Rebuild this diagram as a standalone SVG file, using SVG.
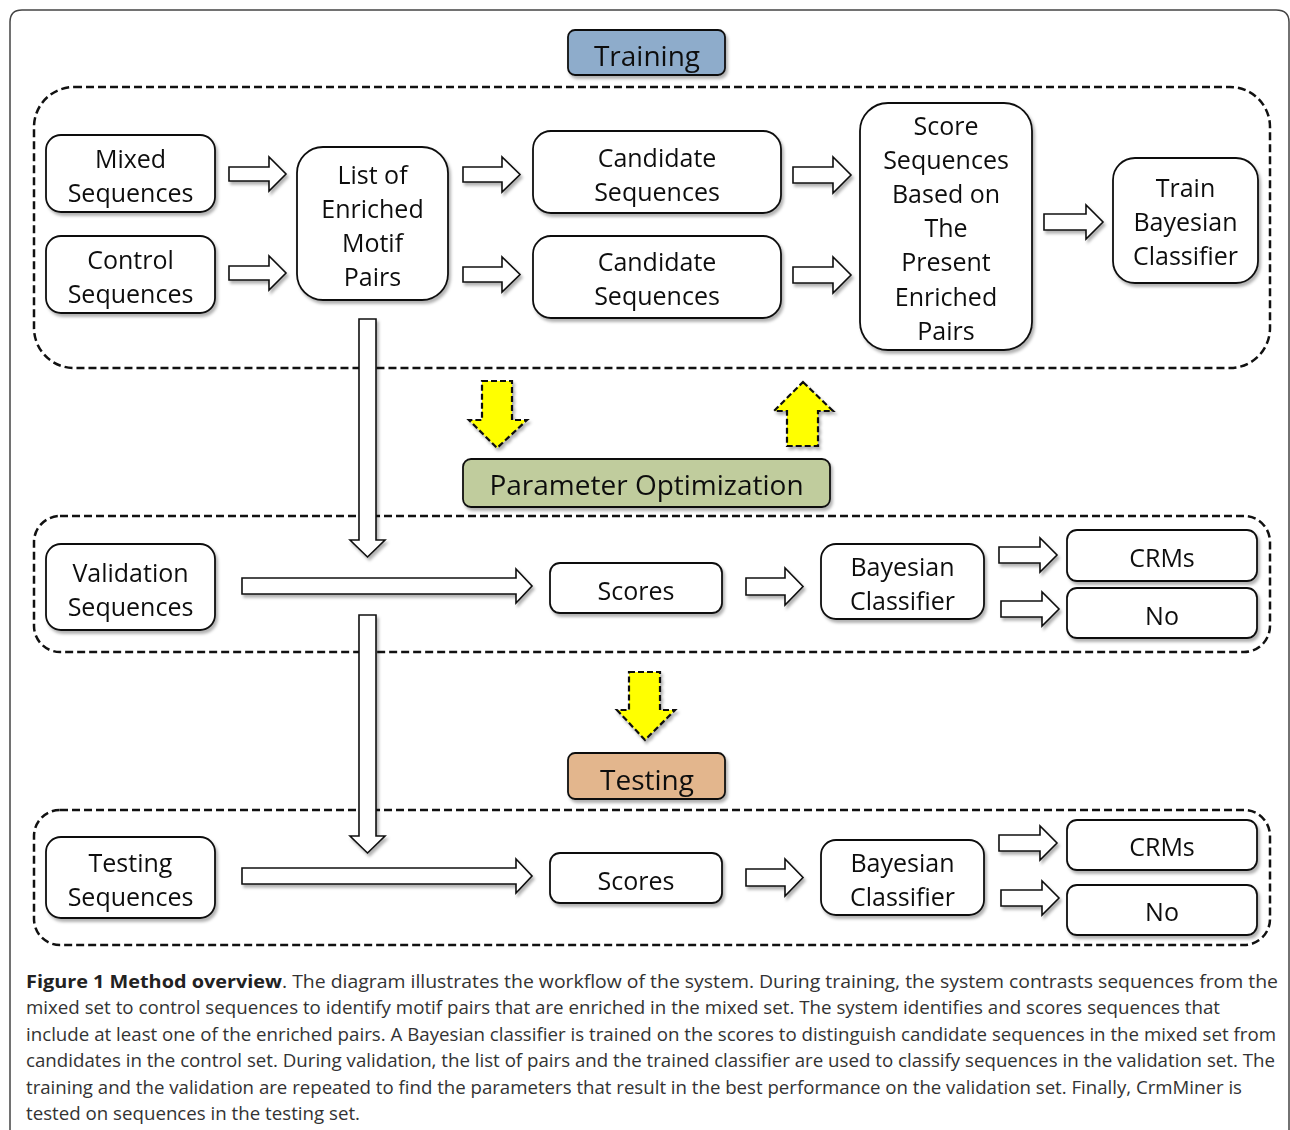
<svg xmlns="http://www.w3.org/2000/svg" width="1290" height="1130" viewBox="0 0 1290 1130">
<defs>
<filter id="sh" x="-10%" y="-10%" width="130%" height="140%">
<feDropShadow dx="2" dy="3" stdDeviation="1.8" flood-color="#000" flood-opacity="0.3"/>
</filter>
<style>
.node{fill:#fff;stroke:#111;stroke-width:1.8}
.t{font-family:"Open Sans","DejaVu Sans",sans-serif;font-size:25px;fill:#111;text-anchor:middle}
.lbl{font-family:"Open Sans","DejaVu Sans",sans-serif;font-size:28px;fill:#111;text-anchor:middle}
.cont{fill:none;stroke:#111;stroke-width:2.5;stroke-dasharray:8 4}
.blk{fill:#fff;stroke:#111;stroke-width:1.6;stroke-linejoin:miter}
.yel{fill:#ffff00;stroke:#111;stroke-width:2.2;stroke-dasharray:6 3}
.cap{font-family:"Open Sans","DejaVu Sans",sans-serif;font-size:18px;fill:#333}
.capb{font-family:"Open Sans","DejaVu Sans",sans-serif;font-size:18px;font-weight:bold;fill:#222}
</style>
</defs>
<rect width="1290" height="1130" fill="#fff"/>
<path d="M10,1140 V22 Q10,10 22,10 H1276 Q1289,10 1289,22 V1140" fill="none" stroke="#444" stroke-width="1.5"/>

<g id="containers">
<rect id="training-area" class="cont" x="34" y="87" width="1236" height="281" rx="40"/>
<rect id="validation-area" class="cont" x="34" y="516" width="1236" height="136" rx="26"/>
<rect id="testing-area" class="cont" x="34" y="810" width="1236" height="135" rx="26"/>
</g>

<g id="connectors">
<!-- training -->
<path class="blk" filter="url(#sh)" d="M229,167 H269 V157 L286,174 L269,191 V181 H229 Z"/>
<path class="blk" filter="url(#sh)" d="M229,266 H269 V256 L286,273 L269,290 V280 H229 Z"/>
<path class="blk" filter="url(#sh)" d="M463,167 H502 V157 L520,174.5 L502,192 V182 H463 Z"/>
<path class="blk" filter="url(#sh)" d="M463,267 H502 V257 L520,274.5 L502,292 V282 H463 Z"/>
<path class="blk" filter="url(#sh)" d="M793,167 H833 V157 L851,175 L833,193 V183 H793 Z"/>
<path class="blk" filter="url(#sh)" d="M793,267 H833 V257 L851,275 L833,293 V283 H793 Z"/>
<path class="blk" filter="url(#sh)" d="M1044,214 H1086 V205 L1103,222 L1086,239 V230 H1044 Z"/>
<!-- vertical list arrows -->
<path class="blk" filter="url(#sh)" d="M359,319 H376 V540 H385 L367.5,557 L350,540 H359 Z"/>
<path class="blk" filter="url(#sh)" d="M359,615 H376 V836 H385 L367.5,853 L350,836 H359 Z"/>
<!-- validation -->
<path class="blk" filter="url(#sh)" d="M242,578 H516 V569 L532,586 L516,603 V594 H242 Z"/>
<path class="blk" filter="url(#sh)" d="M746,578 H785 V568 L803,586.5 L785,605 V595 H746 Z"/>
<path class="blk" filter="url(#sh)" d="M999,547 H1040 V538 L1057,555 L1040,572 V563 H999 Z"/>
<path class="blk" filter="url(#sh)" d="M1001,601 H1042 V592 L1059,609 L1042,626 V617 H1001 Z"/>
<!-- testing -->
<path class="blk" filter="url(#sh)" d="M242,868 H516 V859 L532,876 L516,893 V884 H242 Z"/>
<path class="blk" filter="url(#sh)" d="M746,869 H785 V859 L803,877.5 L785,896 V886 H746 Z"/>
<path class="blk" filter="url(#sh)" d="M999,835 H1040 V826 L1057,843 L1040,860 V851 H999 Z"/>
<path class="blk" filter="url(#sh)" d="M1001,890 H1042 V881 L1059,898 L1042,915 V906 H1001 Z"/>
<!-- yellow -->
<path class="yel" filter="url(#sh)" d="M482,381 H512 V420 H527 L497,448 L469,420 H482 Z"/>
<path class="yel" filter="url(#sh)" d="M803,382 L833,411 H818 V446 H787 V411 H774 Z"/>
<path class="yel" filter="url(#sh)" d="M629,672 H660 V710 H675 L645,740 L617,710 H629 Z"/>
</g>

<g id="training-label" filter="url(#sh)">
<rect x="568" y="30" width="157" height="45" rx="7" fill="#8eaccb" stroke="#111" stroke-width="1.8"/>
<text class="lbl" x="647" y="66">Training</text>
</g>
<g id="mixed" filter="url(#sh)">
<rect class="node" x="46" y="135" width="169" height="77" rx="15"/>
<text class="t" x="130.5" y="168">Mixed</text>
<text class="t" x="130.5" y="202">Sequences</text>
</g>
<g id="control" filter="url(#sh)">
<rect class="node" x="46" y="236" width="169" height="77" rx="15"/>
<text class="t" x="130.5" y="269">Control</text>
<text class="t" x="130.5" y="303">Sequences</text>
</g>
<g id="list" filter="url(#sh)">
<rect class="node" x="297" y="147" width="151" height="153" rx="26"/>
<text class="t" x="372.5" y="184">List of</text>
<text class="t" x="372.5" y="218">Enriched</text>
<text class="t" x="372.5" y="252">Motif</text>
<text class="t" x="372.5" y="286">Pairs</text>
</g>
<g id="cand1" filter="url(#sh)">
<rect class="node" x="533" y="131" width="248" height="82" rx="18"/>
<text class="t" x="657" y="167">Candidate</text>
<text class="t" x="657" y="201">Sequences</text>
</g>
<g id="cand2" filter="url(#sh)">
<rect class="node" x="533" y="236" width="248" height="82" rx="18"/>
<text class="t" x="657" y="271">Candidate</text>
<text class="t" x="657" y="305">Sequences</text>
</g>
<g id="score" filter="url(#sh)">
<rect class="node" x="860" y="103" width="172" height="247" rx="28"/>
<text class="t" x="946" y="135">Score</text>
<text class="t" x="946" y="169">Sequences</text>
<text class="t" x="946" y="203">Based on</text>
<text class="t" x="946" y="237">The</text>
<text class="t" x="946" y="271">Present</text>
<text class="t" x="946" y="306">Enriched</text>
<text class="t" x="946" y="340">Pairs</text>
</g>
<g id="train" filter="url(#sh)">
<rect class="node" x="1113" y="158" width="145" height="125" rx="22"/>
<text class="t" x="1185.5" y="197">Train</text>
<text class="t" x="1185.5" y="231">Bayesian</text>
<text class="t" x="1185.5" y="265">Classifier</text>
</g>
<g id="param" filter="url(#sh)">
<rect x="463" y="459" width="367" height="48" rx="8" fill="#c0cc9d" stroke="#111" stroke-width="1.8"/>
<text class="lbl" x="646.5" y="495">Parameter Optimization</text>
</g>

<g id="validation" filter="url(#sh)">
<rect class="node" x="46" y="544" width="169" height="86" rx="15"/>
<text class="t" x="130.5" y="582">Validation</text>
<text class="t" x="130.5" y="616">Sequences</text>
</g>
<g id="scores-v" filter="url(#sh)">
<rect class="node" x="550" y="563" width="172" height="50" rx="10"/>
<text class="t" x="636" y="600">Scores</text>
</g>
<g id="bayes-v" filter="url(#sh)">
<rect class="node" x="821" y="544" width="163" height="75" rx="15"/>
<text class="t" x="902.5" y="576">Bayesian</text>
<text class="t" x="902.5" y="610">Classifier</text>
</g>
<g id="crms-v" filter="url(#sh)">
<rect class="node" x="1067" y="530" width="190" height="51" rx="10"/>
<text class="t" x="1162" y="567">CRMs</text>
</g>
<g id="no-v" filter="url(#sh)">
<rect class="node" x="1067" y="588" width="190" height="50" rx="10"/>
<text class="t" x="1162" y="625">No</text>
</g>

<g id="testing-label" filter="url(#sh)">
<rect x="568" y="753" width="157" height="46" rx="7" fill="#e3b68d" stroke="#111" stroke-width="1.8"/>
<text class="lbl" x="647" y="790">Testing</text>
</g>
<g id="testing" filter="url(#sh)">
<rect class="node" x="46" y="837" width="169" height="81" rx="15"/>
<text class="t" x="130.5" y="872">Testing</text>
<text class="t" x="130.5" y="906">Sequences</text>
</g>
<g id="scores-t" filter="url(#sh)">
<rect class="node" x="550" y="853" width="172" height="50" rx="10"/>
<text class="t" x="636" y="890">Scores</text>
</g>
<g id="bayes-t" filter="url(#sh)">
<rect class="node" x="821" y="840" width="163" height="75" rx="15"/>
<text class="t" x="902.5" y="872">Bayesian</text>
<text class="t" x="902.5" y="906">Classifier</text>
</g>
<g id="crms-t" filter="url(#sh)">
<rect class="node" x="1067" y="820" width="190" height="50" rx="10"/>
<text class="t" x="1162" y="856">CRMs</text>
</g>
<g id="no-t" filter="url(#sh)">
<rect class="node" x="1067" y="885" width="190" height="50" rx="10"/>
<text class="t" x="1162" y="921">No</text>
</g>

<g id="caption">
<text class="capb" x="26" y="988" textLength="256" lengthAdjust="spacingAndGlyphs">Figure 1 Method overview</text>
<text class="cap" x="282" y="988" textLength="996" lengthAdjust="spacingAndGlyphs">. The diagram illustrates the workflow of the system. During training, the system contrasts sequences from the</text>
<text class="cap" x="26" y="1014" textLength="1194" lengthAdjust="spacingAndGlyphs">mixed set to control sequences to identify motif pairs that are enriched in the mixed set. The system identifies and scores sequences that</text>
<text class="cap" x="26" y="1041" textLength="1250" lengthAdjust="spacingAndGlyphs">include at least one of the enriched pairs. A Bayesian classifier is trained on the scores to distinguish candidate sequences in the mixed set from</text>
<text class="cap" x="26" y="1067" textLength="1249" lengthAdjust="spacingAndGlyphs">candidates in the control set. During validation, the list of pairs and the trained classifier are used to classify sequences in the validation set. The</text>
<text class="cap" x="26" y="1094" textLength="1216" lengthAdjust="spacingAndGlyphs">training and the validation are repeated to find the parameters that result in the best performance on the validation set. Finally, CrmMiner is</text>
<text class="cap" x="26" y="1120" textLength="334" lengthAdjust="spacingAndGlyphs">tested on sequences in the testing set.</text>
</g>
</svg>
